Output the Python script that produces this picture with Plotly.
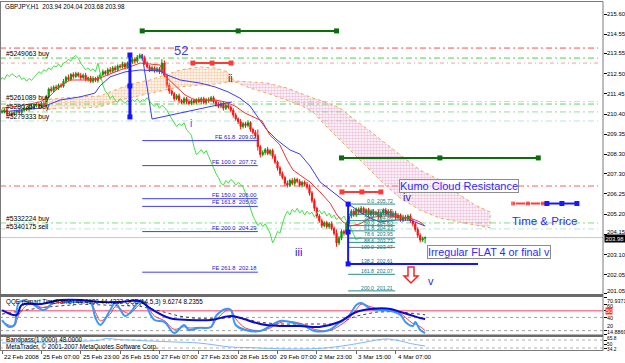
import plotly.graph_objects as go

# ---------------- data ----------------
first_open = 210.50
closes = [
    210.55, 210.62, 210.40, 210.45, 210.38, 210.50, 210.56, 210.48, 210.60, 210.70,
    210.66, 210.78, 210.72, 210.85, 210.90, 210.82, 210.95, 210.88, 211.30, 211.70,
    211.62, 211.80, 211.75, 211.90, 211.85, 212.10, 212.30, 212.20, 212.45, 212.35,
    212.50, 212.40, 212.30, 212.42, 212.20, 212.28, 212.10, 212.25, 212.15, 212.30,
    212.45, 212.60, 212.50, 212.70, 212.62, 212.80, 212.70, 212.90, 212.85, 213.00,
    212.85, 213.05, 213.10, 213.25, 213.15, 213.35, 213.45, 213.30, 213.05, 212.85,
    212.70, 212.80, 212.65, 212.75, 212.60, 213.05, 212.40, 211.90, 211.60, 211.45,
    211.20, 211.35, 211.10, 211.00, 211.20, 211.05, 210.95, 211.10, 211.00, 211.15,
    211.05, 211.20, 211.00, 211.15, 211.10, 211.25, 211.05, 210.90, 210.80, 210.95,
    210.70, 210.85, 210.75, 210.60, 210.35, 210.15, 210.00, 209.75, 209.90, 209.80,
    209.95, 209.60, 209.45, 209.30, 208.70, 208.30, 208.40, 208.55, 208.35, 208.50,
    208.20, 207.90, 207.60, 207.30, 207.10, 206.80, 206.70, 206.95, 206.80, 207.00,
    206.90, 206.70, 206.85, 206.75, 206.60, 206.30, 205.90, 205.50, 205.10, 204.85,
    204.60, 204.75, 204.55, 204.70, 204.45, 204.20, 203.70, 203.95, 204.30, 204.20,
    204.70, 205.10, 205.35, 205.15, 205.45, 205.30, 205.50, 205.25, 205.40, 205.15,
    205.35, 205.20, 205.30, 205.05, 205.25, 205.40, 205.20, 205.35, 205.10, 205.25,
    205.00, 205.15, 204.90, 205.05, 204.95, 205.10, 204.85, 204.70, 204.40, 204.10,
    203.85, 203.94, 203.98,
]
# wick lengths above / below the body, in hundredths of a yen
hi_ext = [
    10, 8, 12, 6, 10, 9, 7, 12, 8, 10, 6, 9, 12, 8, 10, 7, 9, 12, 10, 8,
    14, 9, 12, 8, 10, 12, 9, 15, 8, 12, 10, 8, 14, 9, 12, 7, 10, 12, 8, 11,
    9, 12, 8, 10, 14, 9, 12, 8, 10, 12, 9, 8, 12, 10, 9, 12, 10, 8, 14, 9,
    10, 12, 8, 11, 9, 20, 14, 10, 12, 8, 10, 9, 12, 8, 10, 9, 12, 8, 10, 7,
    12, 9, 10, 8, 12, 9, 10, 8, 12, 9, 10, 8, 12, 9, 10, 12, 8, 14, 9, 10,
    12, 8, 10, 12, 30, 10, 12, 8, 14, 9, 10, 12, 8, 10, 12, 9, 14, 8, 12, 10,
    9, 12, 8, 10, 12, 14, 10, 12, 9, 10, 12, 8, 10, 9, 12, 10, 20, 12, 10, 9,
    12, 14, 10, 12, 9, 10, 12, 8, 10, 12, 9, 10, 8, 12, 9, 10, 12, 8, 10, 9,
    12, 10, 8, 12, 10, 9, 12, 10, 8, 12, 10, 9, 6,
]
lo_ext = [
    8, 12, 10, 9, 12, 8, 10, 9, 12, 8, 10, 12, 8, 9, 10, 12, 8, 10, 12, 9,
    10, 8, 12, 10, 9, 8, 12, 10, 9, 12, 8, 10, 12, 9, 10, 12, 8, 10, 9, 12,
    10, 8, 9, 12, 10, 8, 12, 10, 9, 8, 12, 10, 8, 9, 12, 10, 8, 12, 10, 9,
    12, 8, 10, 9, 12, 14, 10, 12, 15, 10, 12, 9, 14, 10, 8, 12, 10, 9, 12, 10,
    8, 12, 10, 9, 12, 8, 10, 12, 9, 10, 12, 9, 10, 12, 14, 10, 12, 14, 10, 12,
    9, 12, 10, 14, 20, 16, 10, 12, 9, 10, 12, 10, 14, 12, 10, 14, 12, 9, 10, 12,
    10, 9, 12, 10, 12, 14, 12, 14, 12, 10, 12, 9, 10, 12, 10, 12, 20, 12, 10, 12,
    9, 10, 12, 9, 10, 12, 9, 10, 12, 9, 10, 12, 9, 10, 12, 9, 10, 12, 9, 10,
    12, 9, 10, 12, 10, 12, 10, 14, 12, 14, 12, 10, 26,
]
bar_index = list(range(len(closes)))

time_tick_index = [0, 16, 32, 48, 64, 80, 96, 112, 128, 144, 160]
time_tick_text = ["22 Feb 2008", "25 Feb 07:00", "25 Feb 23:00", "26 Feb 15:00",
                  "27 Feb 07:00", "27 Feb 23:00", "28 Feb 15:00", "29 Feb 07:00",
                  "2 Mar 23:00", "3 Mar 15:00", "4 Mar 07:00"]
price_ticks = [215.60, 214.55, 213.55, 212.50, 211.45, 210.40, 209.35, 208.30,
               207.30, 206.25, 205.20, 204.15, 203.10, 202.05, 201.05]

# Ichimoku
tenkan_x = [0, 7.3, 15.4, 19.5, 23.6, 27.6, 35.8, 39.8, 43.9, 48, 52, 56.1, 60.2, 64.2,
            66.3, 70.3, 74.4, 78.5, 86.6, 90.7, 94.7, 98.8, 102.8, 105.7, 108.9, 113,
            115.9, 118.3, 121.1, 125.2, 129.3, 133.3, 136.2, 138.6, 141.5, 145.5,
            149.6, 153.7, 157.7, 161.8, 165.9, 169.9, 172]
tenkan_y = [210.71, 210.82, 211.03, 211.34, 211.86, 212.17, 212.17, 212.27, 212.48,
            212.69, 212.85, 213.05, 213.00, 212.95, 212.38, 211.91, 211.39, 211.13,
            211.13, 211.03, 210.82, 210.45, 210.19, 210.04, 209.31, 208.79, 208.01,
            207.49, 207.23, 206.87, 206.35, 205.78, 205.15, 204.79, 204.58, 204.69,
            205.00, 205.10, 205.10, 205.05, 205.00, 204.79, 204.58]
kijun_x = [0, 15.4, 23.6, 31.7, 37.8, 39.8, 43.9, 50, 56.1, 64.2, 67.1, 72.4, 80.5,
           86.6, 91.9, 96.7, 100.8, 104.1, 107.7, 111.8, 117.1, 121.1, 125.2, 129.3,
           134.6, 140.2, 145.5, 149.6, 153.7, 159.8, 165.9, 172]
kijun_y = [210.51, 210.71, 211.13, 211.29, 211.49, 211.86, 212.33, 212.59, 212.69,
           212.64, 212.43, 212.17, 212.01, 211.81, 211.55, 211.23, 210.82, 210.19,
           209.57, 209.05, 208.53, 208.32, 207.70, 206.87, 206.35, 205.78, 205.31,
           205.00, 204.79, 204.89, 204.89, 204.58]
chikou_shift = 26
cloud_bull_x = [16.7, 23.6, 31.7, 39.8, 48, 54.1, 60.2, 66.3, 72.4, 80.5, 86.6, 91.9, 94.7]
cloud_bull_a = [211.13, 211.23, 211.29, 211.34, 211.75, 212.01, 212.17, 212.43, 212.69,
                212.85, 212.79, 212.59, 212.12]
cloud_bull_b = [210.61, 210.71, 210.71, 210.77, 211.13, 211.29, 211.49, 211.65, 211.81,
                211.91, 211.96, 212.07, 212.07]
cloud_bear_x = [94.7, 100.8, 107.7, 115.9, 121.1, 126.4, 131.3, 137.4, 143.5, 149.6,
                155.7, 161.8, 169.9, 178, 186.2, 192.3, 198.4]
cloud_bear_b = [212.12, 212.07, 212.01, 211.75, 211.49, 211.23, 211.03, 210.71, 210.09,
                209.52, 208.90, 208.27, 207.49, 206.97, 206.19, 205.67, 205.31]
cloud_bear_a = [212.07, 211.75, 211.49, 211.13, 210.87, 210.51, 209.83, 209.05, 208.27,
                207.49, 206.71, 206.04, 205.41, 204.99, 204.79, 204.63, 204.48]

# order lines
order_levels = [213.83, 213.31, 213.05, 211.05, 210.92, 210.51, 210.04, 206.66, 204.74, 204.43]
order_labels = ["#5249063 buy", "#5261089 buy", "#5280357 buy", "#5279333 buy",
                "#5332224 buy", "#5340175 sell"]
order_label_prices = [213.52, 211.23, 210.77, 210.25, 204.94, 204.58]
current_price = 203.98

# Fibonacci expansion
fe_names = ["FE 61.8", "FE 100.0", "FE 150.0", "FE 161.8", "FE 200.0", "FE 261.8", "FE 300.0"]
fe_levels = [209.02, 207.72, 206.00, 205.60, 204.29, 202.18, 200.87]
fe_start, fe_end = 57, 104
# Fibonacci retracement
fib_names = ["0.0", "23.6", "38.2", "50.0", "61.8", "78.6", "88.6", "100.0", "138.2", "161.8", "200.0"]
fib_levels = [205.72, 205.19, 204.86, 204.60, 204.33, 203.95, 203.73, 203.47, 202.61, 202.07, 201.21]
fib_start, fib_end = 140.7, 159.8

# drawn objects (bar index, price)
green_top_x, green_top_p = [57, 96, 136], 214.72
green_low_x, green_low_p = [138, 178, 218], 208.12
red_top_x, red_top_p = [77.6, 85.4, 93.1], 213.05
red_mid_x, red_mid_p = [138.2, 146.3, 154.0], 206.35
red_right_x, red_right_p = [207.7, 213.8, 219.9], 205.75
blue_right_x = [221.5, 227.6, 233.7]
blue_vert_x, blue_vert_p = 52, [213.47, 211.86, 210.25]
fibbox_vert_x, fibbox_vert_p = 140.7, [205.72, 204.27, 202.61]
fibbox_h_x = [140.7, 193.5]
wave_x = [56.9, 61.0, 93.5]
wave_p = [213.52, 210.14, 211.03]

# QQE panel
qqe_fast_x = [0, 3, 5, 7, 11, 17, 22, 26, 30, 36, 38, 40, 44, 46, 50, 52, 56, 58, 60, 62,
              66, 70, 74, 76, 80, 85, 87, 91, 93, 95, 99, 105, 109, 113, 117, 123, 127,
              133, 137, 141, 144, 146, 150, 154, 158, 162, 164, 167, 168, 170, 172]
qqe_fast_y = [36, 25.5, 28.5, 63.4, 63.4, 51.2, 66.4, 63.4, 63.4, 61.9, 39.1, 28.5, 51.2,
              61.9, 42.2, 46.7, 64.9, 63.4, 46.7, 36.1, 33.1, 16.4, 28.5, 21, 24, 25.5,
              42.2, 52.8, 51.2, 28.5, 21, 19.4, 27, 34.6, 33.1, 27, 19.4, 21, 31.5, 42.2,
              58.8, 61.9, 52.8, 51.2, 49.7, 43.7, 33.1, 27, 33.1, 21, 16.4]
qqe_rsi_y = [34, 28, 27, 45, 60, 55, 62, 63, 63, 62, 48, 35, 45, 56, 48, 46, 60, 63, 52,
             42, 35, 22, 26, 24, 25, 26, 36, 50, 52, 38, 24, 20, 24, 32, 34, 29, 22, 20,
             27, 38, 52, 60, 56, 52, 51, 46, 40, 31, 30, 26, 20]
qqe_slow_x = [0, 6, 8, 16, 24, 32, 40, 48, 56, 60, 68, 76, 85, 93, 97, 105, 113, 121, 129,
              137, 144, 150, 158, 162, 166, 170, 172]
qqe_slow_y = [51.2, 43.7, 58.8, 60.3, 66.4, 66.4, 63.4, 63.4, 64.9, 54.3, 39.1, 36.1, 36.1,
              42.2, 39.1, 30, 27, 27, 25.5, 33.1, 48.2, 52.8, 52.8, 48.2, 43.7, 39.1, 37.6]
qqe_sig_x = [0, 16, 32, 48, 56, 64, 72, 80, 88, 96, 104, 112, 120, 128, 136, 144, 152, 160, 168, 172]
qqe_sig_y = [45, 55, 60, 58, 57, 50, 42, 38, 38, 41, 33, 30, 30, 29, 30, 42, 48, 49, 46, 44]
qqe_min, qqe_max = 14.8869, 70.9371
qqe_label_values = [qqe_max, 60, 40, 20, qqe_min]
qqe_label_text = ["70.9371", "60", "40", "20", "14.8869"]

# bottom oscillator
osc_x = [0, 10, 20, 30, 40, 42, 48, 52, 60, 70, 80, 93, 100, 110, 121, 130, 141, 148, 156, 162, 166, 172]
osc_y = [53.9, 55, 57.9, 60, 65.8, 71.7, 67, 65.8, 61.8, 58, 53.9, 38.1, 36, 32, 30.2, 33,
         46, 58, 69.7, 61.8, 52, 42.1]
osc_label_values = [65.8, 50, 34.2]

# ---------------- geometry helpers (pixel -> data / paper) ----------------
W, H, R = 625, 363, 22
PW = W - R


def X(px):
    return (px - 2) / 2.46


def P(py):
    return 215.60 - (py - 14) / 19.24


def PX(px):
    return px / PW


def PY(py):
    return 1 - py / H


FONT = "Liberation Sans"
opens = [first_open] + closes[:-1]
highs = [max(o, c) + h / 100 for o, c, h in zip(opens, closes, hi_ext)]
lows = [min(o, c) - l / 100 for o, c, l in zip(opens, closes, lo_ext)]

fig = go.Figure()

# cloud
fig.add_trace(go.Scatter(
    x=cloud_bull_x + cloud_bull_x[::-1], y=cloud_bull_a + cloud_bull_b[::-1],
    fill="toself", mode="lines", fillcolor="rgba(0,0,0,0)",
    fillpattern=dict(shape=".", fgcolor="#f4a460", bgcolor="rgba(0,0,0,0)", size=3, solidity=0.55),
    line=dict(color="#f4a460", width=1, dash="dot")))
fig.add_trace(go.Scatter(
    x=cloud_bear_x + cloud_bear_x[::-1], y=cloud_bear_a + cloud_bear_b[::-1],
    fill="toself", mode="lines", fillcolor="rgba(0,0,0,0)",
    fillpattern=dict(shape=".", fgcolor="#e08cc0", bgcolor="rgba(0,0,0,0)", size=3, solidity=0.55),
    line=dict(color="#f4a460", width=1, dash="dot")))

# ichimoku lines
fig.add_trace(go.Scatter(x=[i - chikou_shift for i in bar_index], y=closes, mode="lines",
                         line=dict(color="#44e044", width=1)))
fig.add_trace(go.Scatter(x=kijun_x, y=kijun_y, mode="lines", line=dict(color="#3a3aff", width=1)))
fig.add_trace(go.Scatter(x=tenkan_x, y=tenkan_y, mode="lines", line=dict(color="#ff3030", width=1)))

# candles
fig.add_trace(go.Candlestick(
    x=bar_index, open=opens, high=highs, low=lows, close=closes,
    increasing=dict(line=dict(color="#009a00", width=1), fillcolor="#00b400"),
    decreasing=dict(line=dict(color="#ff1010", width=1), fillcolor="#ff1010"),
    whiskerwidth=0))

# fibonacci expansion / retracement lines
for lv in fe_levels:
    fig.add_trace(go.Scatter(x=[fe_start, fe_end], y=[lv, lv], mode="lines",
                             line=dict(color="#3c3cff", width=1)))
for lv in fib_levels:
    fig.add_trace(go.Scatter(x=[fib_start, fib_end], y=[lv, lv], mode="lines",
                             line=dict(color="#2a8c8c", width=1)))


def seg(xs, ys, color, width, marker=True, msize=5):
    fig.add_trace(go.Scatter(
        x=xs, y=ys, mode="lines+markers" if marker else "lines",
        line=dict(color=color, width=width),
        marker=dict(symbol="square", size=msize, color=color)))


seg(green_top_x, [green_top_p] * 3, "#0a6e0a", 2)
seg(green_low_x, [green_low_p] * 3, "#0a6e0a", 2)
seg(red_top_x, [red_top_p] * 3, "#ff3a3a", 2)
seg(red_mid_x, [red_mid_p] * 3, "#ff3a3a", 2)
seg(red_right_x + [blue_right_x[0]], [red_right_p] * 4, "#ff3a3a", 2)
fig.data[-1].marker.size = [5, 5, 5, 0]
seg(blue_right_x, [red_right_p] * 3, "#1818ff", 2)
seg(wave_x, wave_p, "#3a3aff", 1, marker=False)
seg([blue_vert_x] * 3, blue_vert_p, "#1414ff", 3)
seg(fibbox_h_x, [fibbox_vert_p[-1]] * 2, "#1414ff", 2, marker=False)
seg([fibbox_vert_x] * 3, fibbox_vert_p, "#1414ff", 2)

# QQE panel
fig.add_trace(go.Scatter(x=qqe_sig_x, y=qqe_sig_y, yaxis="y2", mode="lines",
                         line=dict(color="#404040", width=1, dash="dot")))
fig.add_trace(go.Scatter(x=qqe_fast_x, y=qqe_rsi_y, yaxis="y2", mode="lines",
                         line=dict(color="#ff3a3a", width=1, shape="spline")))
fig.add_trace(go.Scatter(x=qqe_fast_x, y=qqe_fast_y, yaxis="y2", mode="lines",
                         line=dict(color="#3399ff", width=2, shape="spline")))
fig.add_trace(go.Scatter(x=qqe_slow_x, y=qqe_slow_y, yaxis="y2", mode="lines",
                         line=dict(color="#0a0ad0", width=2, shape="spline")))
# oscillator panel
fig.add_trace(go.Scatter(x=osc_x, y=osc_y, yaxis="y3", mode="lines",
                         line=dict(color="#7ab8ff", width=1, shape="spline")))

shapes = []
styles = [("#ff4a4a", "6px,3px,2px,3px"), ("#4ccf4c", "6px,3px,2px,3px"),
          ("#ff9a9a", "4px,3px,1px,3px"), ("#b8ecb8", "6px,3px,2px,3px"),
          ("#5cd65c", "6px,3px,2px,3px"), ("#8fe08f", "6px,3px,2px,3px"),
          ("#b6e6d8", "6px,3px,2px,3px"), ("#ff5a5a", "6px,3px,2px,3px"),
          ("#7fdc7f", "6px,3px,2px,3px"), ("#b6e6d8", "6px,3px,2px,3px")]
for lv, (c, d) in zip(order_levels, styles):
    shapes.append(dict(type="line", xref="x", yref="y", x0=X(0), x1=X(598), y0=lv, y1=lv,
                       line=dict(color=c, width=1, dash=d), layer="below"))
shapes.append(dict(type="line", xref="x", yref="y", x0=X(0), x1=X(603), y0=current_price,
                   y1=current_price, line=dict(color="#c4c8d8", width=1), layer="below"))
# QQE levels
shapes.append(dict(type="line", xref="x", yref="y2", x0=X(0), x1=X(603), y0=50, y1=50,
                   line=dict(color="#ff4060", width=1), layer="below"))
for lv in [40, 20]:
    shapes.append(dict(type="line", xref="x", yref="y2", x0=X(0), x1=X(603), y0=lv, y1=lv,
                       line=dict(color="#a0a0a0", width=1, dash="dot"), layer="below"))
for lv in [65.8, 34.2]:
    shapes.append(dict(type="line", xref="x", yref="y3", x0=X(0), x1=X(603), y0=lv, y1=lv,
                       line=dict(color="#b0b0b0", width=1, dash="dot"), layer="below"))
# red down arrow
ax = [X(408), X(414), X(418), X(411), X(404)]
ay = [P(267), P(276), P(283)]
path = (f"M {ax[0]},{ay[0]} L {ax[1]},{ay[0]} L {ax[1]},{ay[1]} L {ax[2]},{ay[1]} "
        f"L {ax[3]},{ay[2]} L {ax[4]},{ay[1]} L {ax[0]},{ay[1]} Z")
shapes.append(dict(type="path", xref="x", yref="y", path=path,
                   line=dict(color="#ff2020", width=1.5), fillcolor="white"))
# frames
gray = "#7a7a7a"
shapes += [
    dict(type="line", xref="paper", yref="paper", x0=0, x1=PX(603), y0=PY(1.5), y1=PY(1.5),
         line=dict(color=gray, width=1)),
    dict(type="line", xref="paper", yref="paper", x0=PX(0.5), x1=PX(0.5), y0=PY(1.5), y1=PY(351),
         line=dict(color=gray, width=1)),
    dict(type="line", xref="paper", yref="paper", x0=PX(603), x1=PX(603), y0=PY(1.5), y1=PY(351),
         line=dict(color=gray, width=1)),
    dict(type="rect", xref="paper", yref="paper", x0=0, x1=PX(603), y0=PY(297), y1=PY(294),
         line=dict(width=0), fillcolor="#6a6a6a"),
    dict(type="rect", xref="paper", yref="paper", x0=0, x1=PX(603), y0=PY(337), y1=PY(334.5),
         line=dict(width=0), fillcolor="#6a6a6a"),
    dict(type="line", xref="paper", yref="paper", x0=0, x1=PX(603), y0=PY(350.5), y1=PY(350.5),
         line=dict(color=gray, width=1)),
]

ann = []


def txt(text, px, py, size=7, color="#000000", xanchor="left", **kw):
    ann.append(dict(text=text, x=X(px), y=P(py), xref="x", yref="y", showarrow=False,
                    xanchor=xanchor, yanchor="middle", font=dict(family=FONT, size=size, color=color),
                    **kw))


def side_label(text, py, size=6, **kw):
    ann.append(dict(text=text, x=PX(605), y=PY(py), xref="paper", yref="paper", showarrow=False,
                    xanchor="left", yanchor="middle", font=dict(family=FONT, size=size, color="#000"),
                    **kw))


ann.append(dict(text="GBPJPY,H1  203.94 204.04 203.68 203.98", x=PX(3), y=PY(7), xref="paper",
                yref="paper", showarrow=False, xanchor="left", yanchor="middle",
                font=dict(family=FONT, size=6.3, color="#000")))
for t, p in zip(order_labels, order_label_prices):
    ann.append(dict(text=t, x=X(4), y=p, xref="x", yref="y", showarrow=False, xanchor="left",
                    yanchor="middle", font=dict(family=FONT, size=6.8, color="#000")))
for n, lv in zip(fe_names, fe_levels):
    ann.append(dict(text=f"{n}  {lv:.2f}", x=fe_end, y=lv, xref="x", yref="y", showarrow=False,
                    xanchor="right", yanchor="bottom", yshift=-1,
                    font=dict(family=FONT, size=5.8, color="#1a1ad0")))
# the 78.6 / 88.6 / 100.0 labels crowd together; spread them a little
fib_label_shift = {"78.6": 1.0, "88.6": -1.5, "100.0": -2.5}
for n, lv in zip(fib_names, fib_levels):
    ann.append(dict(text=f"{n}  {lv:.2f}", x=fib_end - 0.6, y=lv, xref="x", yref="y", showarrow=False,
                    xanchor="right", yanchor="bottom", yshift=-1 + fib_label_shift.get(n, 0),
                    borderpad=0, font=dict(family=FONT, size=5.2, color="#207878")))
txt("52", 181, 50, size=13, color="#4040dd", xanchor="center")
txt("ii", 230, 78, size=10, color="#1a1a70", xanchor="center")
txt("i", 191, 123, size=10, color="#3050ff", xanchor="center")
txt("iii", 298, 252, size=11, color="#2020c0", xanchor="center")
txt("iv", 407, 197, size=11, color="#2a2ac8", xanchor="center")
txt("v", 431, 281, size=11, color="#2a2ae0", xanchor="center")
txt("Kumo Cloud Resistance", 458.5, 185.5, size=11, color="#2b2bff", xanchor="center",
    bordercolor="#8c8c8c", borderwidth=1, borderpad=0, bgcolor="rgba(255,255,255,0.55)")
txt("Irregular FLAT 4 or final v", 489, 251.5, size=10.8, color="#2b2bff", xanchor="center",
    bordercolor="#8c8c8c", borderwidth=1, borderpad=0, bgcolor="rgba(255,255,255,0.8)")
txt("Time & Price", 544, 221, size=11.5, color="#2b2bff", xanchor="center")

for i, t in zip(time_tick_index, time_tick_text):
    ann.append(dict(text=t, x=i, y=PY(356), xref="x", yref="paper", showarrow=False,
                    xanchor="left", yanchor="middle", xshift=0,
                    font=dict(family=FONT, size=6.2, color="#000")))

# main price scale labels (the lowest one sits above the separator, the one behind
# the current-price box is nudged up, as in the terminal)
for v in price_ticks:
    shift = 2.5 if v in (price_ticks[-1], 204.15) else 0
    ann.append(dict(text=f"{v:.2f}", x=PX(605), y=v, xref="paper", yref="y", showarrow=False,
                    xanchor="left", yanchor="middle", yshift=shift,
                    font=dict(family=FONT, size=5.9, color="#000")))
# current price box
ann.append(dict(text="203.98", x=1, y=current_price, xref="paper", yref="y", showarrow=False,
                xanchor="left", yanchor="middle", xshift=1, yshift=-1, bgcolor="#000000", borderpad=0.5,
                font=dict(family=FONT, size=5.9, color="#ffffff")))
# QQE side labels
for txtv, py in zip(qqe_label_text, [300.5, 306, 318, 325.5, 331.5]):
    side_label(txtv, py, size=5.4)
ann.append(dict(text="50", x=1, y=50, xref="paper", yref="y2", showarrow=False,
                xanchor="left", yanchor="middle", xshift=2, bgcolor="#ff3030", borderpad=0,
                font=dict(family=FONT, size=5.8, color="#ffffff")))
for txtv, py in zip(["65.8", "50", "34.2"], [338.8, 344, 349.2]):
    side_label(txtv, py, size=4.8)
ann.append(dict(text="QQE (Smart Timeframe) 44.4980 44.4232 QQE(14,5,3) 9.6274 8.2355", x=PX(4),
                y=PY(302), xref="paper", yref="paper", showarrow=False, xanchor="left",
                yanchor="middle", font=dict(family=FONT, size=6.3, color="#000")))
ann.append(dict(text="Bandpass(1.0000) 48.0000", x=PX(4), y=PY(340), xref="paper", yref="paper",
                showarrow=False, xanchor="left", yanchor="middle",
                font=dict(family=FONT, size=6.3, color="#000")))
ann.append(dict(text="MetaTrader, © 2001-2007 MetaQuotes Software Corp.", x=PX(4), y=PY(347),
                xref="paper", yref="paper", showarrow=False, xanchor="left", yanchor="middle",
                font=dict(family=FONT, size=6.3, color="#000")))

axis_common = dict(side="right", anchor="x", showgrid=False, zeroline=False, ticks="outside",
                   ticklen=3, tickcolor="#000", tickfont=dict(family=FONT, size=6.3, color="#000"),
                   showline=False)
fig.update_layout(
    width=W, height=H, margin=dict(l=0, r=R, t=0, b=0),
    paper_bgcolor="white", plot_bgcolor="white", showlegend=False, hovermode=False,
    font=dict(family=FONT, size=7),
    xaxis=dict(range=[X(0), X(603)], domain=[0, 1], anchor="y3", showgrid=False, zeroline=False,
               tickvals=time_tick_index, ticks="outside", ticklen=3, tickcolor="#666",
               showticklabels=False, rangeslider=dict(visible=False), showline=False),
    yaxis=dict(domain=[PY(294), PY(2)], range=[P(294), P(2)], tickvals=price_ticks,
               ticktext=[""] * len(price_ticks), **axis_common),
    yaxis2=dict(domain=[PY(334), PY(297)], range=[qqe_min, qqe_max],
                tickvals=qqe_label_values + [50], ticktext=[""] * 6, **axis_common),
    yaxis3=dict(domain=[PY(350), PY(338)], range=[26.3, 73.7], tickvals=osc_label_values,
                ticktext=[""] * 3, **axis_common),
    shapes=shapes, annotations=ann,
)

fig.write_html("out.html")
